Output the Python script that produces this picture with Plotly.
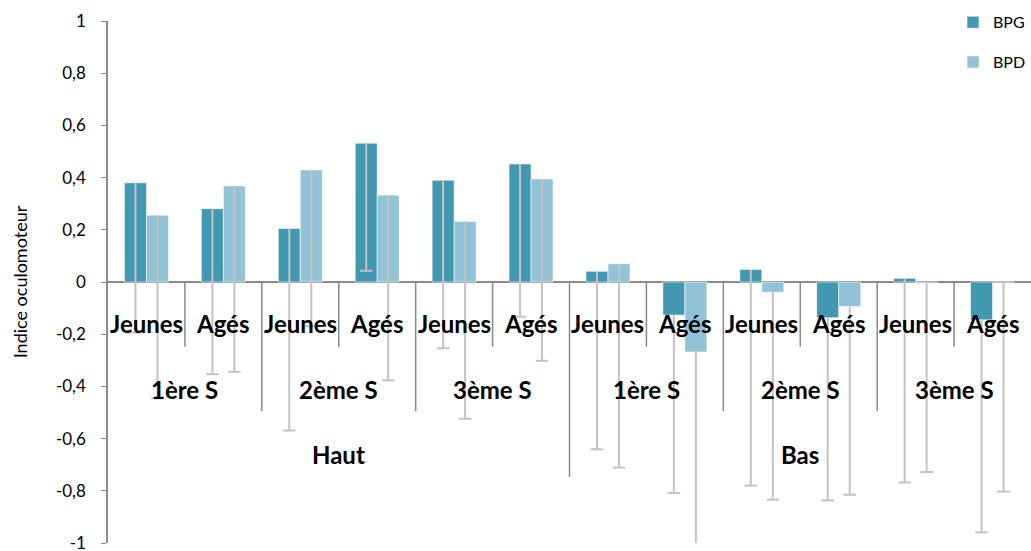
import plotly.graph_objects as go

# Category levels (innermost to outermost)
age_groups = ["Jeunes", "Agés"] * 6
sessions = ["1ère S", "2ème S", "3ème S"] * 2
positions = ["Haut", "Bas"]

# Mean oculomotor index per condition
bpg = [0.38, 0.281, 0.205, 0.532, 0.39, 0.452, 0.041, -0.127, 0.048, -0.137, 0.014, -0.145]
bpd = [0.256, 0.368, 0.429, 0.333, 0.232, 0.395, 0.070, -0.268, -0.039, -0.094, -0.005, 0.0]

# Negative-direction error values
err_bpg = [0.574, 0.634, 0.774, 0.489, 0.644, 0.585, 0.682, 0.681, 0.828, 0.700, 0.782, 0.814]
err_bpd = [0.702, 0.712, 0.599, 0.710, 0.756, 0.697, 0.781, 0.782, 0.795, 0.721, 0.723, 0.803]

tick_vals = [1, 0.8, 0.6, 0.4, 0.2, 0, -0.2, -0.4, -0.6, -0.8, -1]
tick_text = ["1", "0,8", "0,6", "0,4", "0,2", "0", "-0,2", "-0,4", "-0,6", "-0,8", "-1"]

C_BPG = "#4398B1"
C_BPD = "#93C3D6"
C_ERR = "#C3C3C3"
C_AXIS = "#8A8A8A"
FONT = "Lato"
LABEL_SIZE = 24

BAR_W = 0.286
x = list(range(len(age_groups)))

fig = go.Figure()

series = [("BPG", bpg, err_bpg, C_BPG, -BAR_W), ("BPD", bpd, err_bpd, C_BPD, 0.0)]
for name, vals, errs, color, off in series:
    fig.add_trace(go.Bar(
        x=x, y=vals, name=name, width=BAR_W, offset=off,
        marker=dict(color=color, line=dict(color="rgba(255,255,255,0.55)", width=1)),
        error_y=dict(type="data", symmetric=False, array=[0] * len(vals),
                     arrayminus=errs, color=C_ERR, thickness=2, width=0),
        legendgroup=name,
    ))
    # caps at the lower end of each error bar
    fig.add_trace(go.Scatter(
        x=[i + off + BAR_W / 2 for i in x],
        y=[v - e for v, e in zip(vals, errs)],
        mode="markers",
        marker=dict(symbol="line-ew", size=9, line=dict(color=C_ERR, width=2)),
        showlegend=False, hoverinfo="skip", cliponaxis=True,
    ))

# Hierarchical category labels
Y_L1, Y_L2, Y_L3 = -0.16, -0.411, -0.659
label_font = dict(family=FONT, size=LABEL_SIZE, color="black", weight="bold")
for i, lab in enumerate(age_groups):
    fig.add_annotation(x=i, y=Y_L1, text=lab, showarrow=False, font=label_font)
for j, lab in enumerate(sessions):
    fig.add_annotation(x=2 * j + 0.5, y=Y_L2, text=lab, showarrow=False, font=label_font)
for k, lab in enumerate(positions):
    fig.add_annotation(x=6 * k + 2.5, y=Y_L3, text=lab, showarrow=False, font=label_font)

# Separator lines between categories
for b in range(len(age_groups) - 1):
    edge = b + 0.5
    if (b + 1) % 6 == 0:
        bottom = -0.747
    elif (b + 1) % 2 == 0:
        bottom = -0.495
    else:
        bottom = -0.248
    fig.add_shape(type="line", x0=edge, x1=edge, y0=0, y1=bottom,
                  line=dict(color=C_AXIS, width=1.5), layer="above")

# Y-axis title
fig.add_annotation(xref="paper", yref="paper", x=-0.095, y=0.5,
                   xanchor="center", yanchor="middle",
                   text="Indice oculomoteur", textangle=-90, showarrow=False,
                   font=dict(family=FONT, size=18, color="black"))

fig.update_layout(
    width=1031, height=551,
    margin=dict(l=108, r=0, t=21, b=8),
    plot_bgcolor="white", paper_bgcolor="white",
    barmode="overlay",
    showlegend=True,
    legend=dict(x=1.0, y=1.03, xanchor="right", yanchor="top",
                traceorder="grouped", tracegroupgap=16,
                font=dict(family=FONT, size=16, color="black"),
                bgcolor="rgba(0,0,0,0)", itemwidth=30),
    xaxis=dict(range=[-0.5, 11.5], visible=False, fixedrange=True),
    yaxis=dict(range=[-1, 1], tickvals=tick_vals, ticktext=tick_text,
               automargin=False,
               showgrid=False, zeroline=True, zerolinecolor=C_AXIS, zerolinewidth=2,
               showline=True, linecolor=C_AXIS, linewidth=1.5,
               ticks="outside", ticklen=5, tickcolor=C_AXIS,
               ticklabeloverflow="allow", ticklabelstandoff=12,
               tickfont=dict(family=FONT, size=17, color="black")),
)

fig.write_html("out.html")
